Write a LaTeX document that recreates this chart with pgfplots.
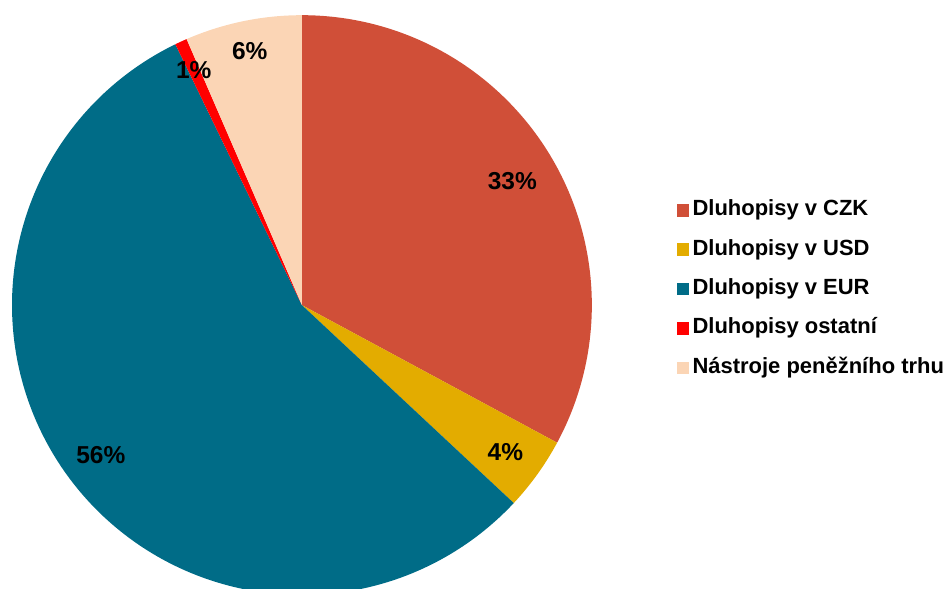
\documentclass[border=0pt]{standalone}
\usepackage{fontspec}
\setmainfont{Liberation Sans}
\usepackage{pgfplots}
\pgfplotsset{compat=1.18}
\definecolor{czk}{HTML}{D04F38}
\definecolor{usd}{HTML}{E3AC00}
\definecolor{eur}{HTML}{006C87}
\definecolor{oth}{HTML}{FF0000}
\definecolor{mm}{HTML}{FBD5B5}
% shares in percent
\def\vA{32.87}% Dluhopisy v CZK
\def\vB{4.09}%  Dluhopisy v USD
\def\vC{55.85}% Dluhopisy v EUR
\def\vD{0.68}%  Dluhopisy ostatni
\def\vE{6.51}%  Nastroje penezniho trhu
\def\cx{302.3}\def\cy{283.5}\def\pieR{290.3}
\pgfmathsetmacro\aA{90}
\pgfmathsetmacro\aB{\aA-3.6*\vA}
\pgfmathsetmacro\aC{\aB-3.6*\vB}
\pgfmathsetmacro\aD{\aC-3.6*\vC}
\pgfmathsetmacro\aE{\aD-3.6*\vD}
\pgfmathsetmacro\aF{\aE-3.6*\vE}
\begin{document}
\begin{tikzpicture}
\begin{axis}[
  scale only axis, width=472pt, height=294.5pt,
  xmin=0, xmax=944, ymin=0, ymax=589,
  hide axis, clip=true,
  legend cell align=left,
  legend image code/.code={\fill[#1] (0pt,-3.2pt) rectangle (6pt,3.2pt);},
  legend style={at={(axis cs:677,388.5)}, anchor=north west, draw=none, fill=none,
    inner sep=0pt, row sep=10.25pt,
    font=\bfseries\fontsize{11}{12}\selectfont,
    nodes={inner sep=0pt, outer xsep=0pt, text height=7.5pt, text depth=2pt},
    /tikz/every odd column/.style={column sep=2pt}},
]
\addplot[fill=czk, draw=none, domain=\aB:\aA, samples=120, variable=\t]
  ({\cx+\pieR*cos(\t)},{\cy+\pieR*sin(\t)}) -- (axis cs:\cx,\cy) -- cycle;
\addlegendentry{Dluhopisy v CZK}
\addplot[fill=usd, draw=none, domain=\aC:\aB, samples=30, variable=\t]
  ({\cx+\pieR*cos(\t)},{\cy+\pieR*sin(\t)}) -- (axis cs:\cx,\cy) -- cycle;
\addlegendentry{Dluhopisy v USD}
\addplot[fill=eur, draw=none, domain=\aD:\aC, samples=200, variable=\t]
  ({\cx+\pieR*cos(\t)},{\cy+\pieR*sin(\t)}) -- (axis cs:\cx,\cy) -- cycle;
\addlegendentry{Dluhopisy v EUR}
\addplot[fill=oth, draw=none, domain=\aE:\aD, samples=10, variable=\t]
  ({\cx+\pieR*cos(\t)},{\cy+\pieR*sin(\t)}) -- (axis cs:\cx,\cy) -- cycle;
\addlegendentry{Dluhopisy ostatní}
\addplot[fill=mm, draw=none, domain=\aF:\aE, samples=30, variable=\t]
  ({\cx+\pieR*cos(\t)},{\cy+\pieR*sin(\t)}) -- (axis cs:\cx,\cy) -- cycle;
\addlegendentry{Nástroje peněžního trhu}
\begin{scope}[every node/.style={font=\bfseries\fontsize{12.25}{14}\selectfont, inner sep=0pt}]
\node at (axis cs:513,408) {33\%};
\node at (axis cs:506,136) {4\%};
\node at (axis cs:101,133) {56\%};
\node at (axis cs:194,519) {1\%};
\node at (axis cs:250,538) {6\%};
\end{scope}
\path (rel axis cs:0,0) rectangle (rel axis cs:1,1);
\end{axis}
\end{tikzpicture}
\end{document}
